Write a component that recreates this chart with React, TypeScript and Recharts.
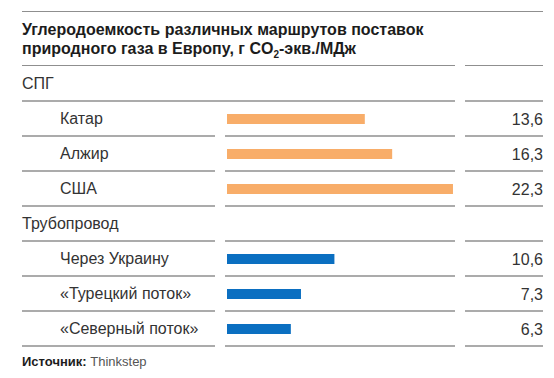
import React from "react"
import { BarChart, Bar, XAxis, YAxis, Cell, LabelList } from "recharts"

const categories = [
    "СПГ",
    "Катар",
    "Алжир",
    "США",
    "Трубопровод",
    "Через Украину",
    "«Турецкий поток»",
    "«Северный поток»",
]
const groupNames = ["СПГ", "Трубопровод"]
const values: (number | null)[] = [null, 13.6, 16.3, 22.3, null, 10.6, 7.3, 6.3]
const sectors = ["lng", "lng", "lng", "lng", "pipe", "pipe", "pipe", "pipe"]

const COLORS: Record<string, string> = { lng: "#F8AD69", pipe: "#0B6FC1" }
const LINE = "#8f8f8f"
const FONT = "'Liberation Sans', Arial, sans-serif"

const data = categories.map((name, i) => ({
    name,
    value: values[i],
    sector: sectors[i],
}))

const ROW = 35

function RowTick(props: any) {
    const { y, payload } = props
    const isGroup = groupNames.includes(payload.value)
    const bottom = y + ROW / 2
    return (
        <g>
            <text
                x={isGroup ? 22 : 60}
                y={y}
                dominantBaseline="central"
                fontSize={16}
                fill="#333"
                fontFamily={FONT}
            >
                {payload.value}
            </text>
            {payload.value === "СПГ" ? (
                <line x1={22} x2={455} y1={bottom} y2={bottom} stroke={LINE} strokeWidth={1.5} />
            ) : (
                <>
                    <line x1={22} x2={215} y1={bottom} y2={bottom} stroke={LINE} strokeWidth={1.5} />
                    <line x1={225} x2={455} y1={bottom} y2={bottom} stroke={LINE} strokeWidth={1.5} />
                </>
            )}
            <line x1={465} x2={543} y1={bottom} y2={bottom} stroke={LINE} strokeWidth={1.5} />
        </g>
    )
}

function ValueLabel(props: any) {
    const { y, height, value } = props
    if (value == null) return null
    return (
        <text
            x={543}
            y={y + height / 2}
            textAnchor="end"
            dominantBaseline="central"
            fontSize={16}
            fill="#333"
            fontFamily={FONT}
        >
            {Number(value).toFixed(1).replace(".", ",")}
        </text>
    )
}

export default function App() {
    return (
        <div
            style={{
                position: "absolute",
                left: 0,
                top: 0,
                width: 554,
                height: 378,
                background: "#fff",
                fontFamily: FONT,
            }}
        >
            <div style={{ position: "absolute", left: 22, top: 11, width: 521, height: 0, borderTop: `1.5px solid ${LINE}` }} />
            <div
                style={{
                    position: "absolute",
                    left: 22,
                    top: 20,
                    fontSize: 16,
                    lineHeight: "19px",
                    fontWeight: 700,
                    color: "#1c1c1c",
                    whiteSpace: "nowrap",
                }}
            >
                Углеродоемкость различных маршрутов поставок
                <br />
                природного газа в Европу, г CO<sub style={{ fontSize: 10, lineHeight: 0 }}>2</sub>-экв./МДж
            </div>
            <div style={{ position: "absolute", left: 22, top: 65, width: 433, height: 0, borderTop: `1.5px solid ${LINE}` }} />
            <div style={{ position: "absolute", left: 465, top: 65, width: 78, height: 0, borderTop: `1.5px solid ${LINE}` }} />

            <div style={{ position: "absolute", left: 0, top: 0 }}>
                <BarChart
                    width={554}
                    height={378}
                    data={data}
                    layout="vertical"
                    margin={{ top: 66, right: 99, bottom: 32, left: 0 }}
                    barCategoryGap={0}
                >
                    <XAxis type="number" domain={[0, 22.5]} hide />
                    <YAxis
                        type="category"
                        dataKey="name"
                        width={227}
                        axisLine={false}
                        tickLine={false}
                        interval={0}
                        tick={<RowTick />}
                    />
                    <Bar dataKey="value" barSize={10} isAnimationActive={false}>
                        {data.map((d, i) => (
                            <Cell key={i} fill={COLORS[d.sector]} />
                        ))}
                        <LabelList dataKey="value" content={<ValueLabel />} />
                    </Bar>
                </BarChart>
            </div>

            <div style={{ position: "absolute", left: 22, top: 354, fontSize: 13, color: "#555" }}>
                <b style={{ color: "#1c1c1c" }}>Источник:</b> Thinkstep
            </div>
        </div>
    )
}
